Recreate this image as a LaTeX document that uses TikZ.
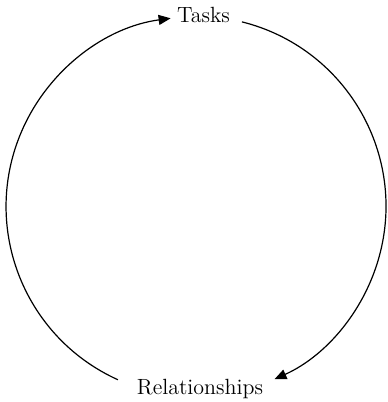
\documentclass[tikz,border=0pt]{standalone}
\usetikzlibrary{arrows.meta, positioning}

\begin{document}
\begin{tikzpicture}[
    x=0.5pt, y=0.5pt,
    every node/.style={inner sep=0pt, outer sep=0pt, font=\fontsize{11}{13}\selectfont},
    arrow/.style={-{Triangle[length=6pt, width=5pt]}, line width=0.6pt}
]
\useasboundingbox (0,0) rectangle (387,402);

% Nodes
\node[anchor=base] (tasks) at (203.5,379) {Tasks};
\node[anchor=base] (relationships) at (200,7) {Relationships};

% Arrows
\draw[arrow] ([xshift=-9.5pt]relationships.north west)
    arc[start angle=245.7, end angle=97.7, radius=190];
\draw[arrow] ([shift={(6pt,-3.2pt)}]tasks.east)
    arc[start angle=76, end angle=-65.6, radius=190];

\end{tikzpicture}
\end{document}
